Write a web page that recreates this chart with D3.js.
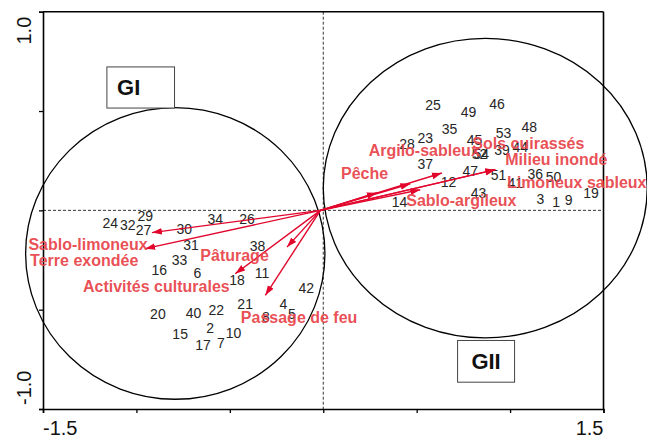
<!DOCTYPE html>
<html>
<head>
<meta charset="utf-8">
<script src="https://cdn.jsdelivr.net/npm/d3@7"></script>
<style>
  body { margin: 0; background: #fff; }
  svg { font-family: "Liberation Sans", Arial, sans-serif; }
</style>
</head>
<body>
<div id="chart"></div>
<script>
(function(){

// sites (relevés) : number, axis 1, axis 2
const siteIds = [24, 32, 29, 27, 34, 26, 30, 31, 33, 16, 6, 38, 18, 11, 42, 20, 40, 22, 21, 4, 5, 8, 2, 10, 15, 17, 7,
                 25, 49, 46, 35, 53, 48, 28, 23, 45, 52, 54, 39, 44, 37, 47, 12, 51, 41, 36, 50, 43, 14, 3, 1, 9, 19];
const siteX = [-1.140, -1.046, -0.953, -0.962, -0.578, -0.408, -0.744, -0.708, -0.769, -0.878, -0.673, -0.352, -0.462, -0.328, -0.091, -0.885, -0.694, -0.573, -0.418, -0.213, -0.168, -0.307, -0.605, -0.480, -0.766, -0.644, -0.548,
               0.587, 0.778, 0.930, 0.676, 0.965, 1.103, 0.448, 0.546, 0.810, 0.837, 0.846, 0.957, 1.055, 0.546, 0.787, 0.671, 0.938, 1.028, 1.135, 1.233, 0.831, 0.408, 1.162, 1.247, 1.313, 1.433];
const siteY = [-0.064, -0.072, -0.030, -0.097, -0.042, -0.042, -0.096, -0.176, -0.248, -0.302, -0.314, -0.180, -0.349, -0.316, -0.389, -0.520, -0.515, -0.504, -0.473, -0.470, -0.520, -0.537, -0.591, -0.616, -0.621, -0.680, -0.668,
               0.532, 0.495, 0.537, 0.408, 0.389, 0.419, 0.332, 0.366, 0.356, 0.282, 0.282, 0.302, 0.319, 0.235, 0.198, 0.142, 0.176, 0.137, 0.180, 0.168, 0.089, 0.042, 0.059, 0.042, 0.054, 0.087];

// environmental variables : arrow tip and label position
const varNames = ["Sablo-limoneux", "Terre exondée", "Pâturage", "Activités culturales", "Passage de feu",
                  "Pêche", "Argilo-sableux", "Sols cuirassés", "Milieu inondé", "Limoneux sableux", "Sablo-argileux"];
const varX = [-0.917, -0.953, -0.194, -0.471, -0.310, 0.287, 0.635, 0.921, 0.466, 0.921, 0.519];
const varY = [-0.112, -0.193, -0.185, -0.319, -0.428, 0.089, 0.188, 0.205, 0.134, 0.205, 0.104];
const varLabelX = [-1.578, -1.569, -0.658, -1.286, -0.441, 0.095, 0.243, 0.798, 0.974, 0.983, 0.444];
const varLabelY = [-0.171, -0.252, -0.227, -0.383, -0.540, 0.186, 0.302, 0.336, 0.255, 0.142, 0.050];
const arrowOrigin = [-0.015, 0];

// groups : ellipse centre / radii, box, label
const groupNames = ["GI", "GII"];
const groupCx = [-0.792, 0.867];
const groupCy = [-0.217, 0.112];
const groupRx = [0.801, 0.867];
const groupRy = [0.734, 0.754];
const boxX = [[-1.158, -0.796], [0.719, 1.024]];
const boxY = [[0.722, 0.515], [-0.655, -0.865]];

const xTicks = [-1.5, -1.0, -0.5, 0, 0.5, 1.0, 1.5];
const yTicks = [-1.0, -0.5, 0, 0.5, 1.0];
const xTickLabels = ["-1.5", "1.5"];
const yTickLabels = ["-1.0", "1.0"];

const width = 647, height = 438;
const margin = { top: 11.7, right: 43.5, bottom: 29, left: 43 };

const svg = d3.select("#chart").append("svg")
    .attr("width", width)
    .attr("height", height);

const x = d3.scaleLinear().domain([-1.5, 1.5]).range([margin.left, width - margin.right]);
const y = d3.scaleLinear().domain([-1, 1]).range([height - margin.bottom, margin.top]);

const red = "#e2062c";
const labelRed = "#e8464c";

// dashed zero lines
svg.append("line")
    .attr("x1", x(-1.5)).attr("x2", x(1.5))
    .attr("y1", y(0)).attr("y2", y(0))
    .attr("stroke", "#000").attr("stroke-width", 0.8).attr("stroke-dasharray", "3,2");
svg.append("line")
    .attr("x1", x(0)).attr("x2", x(0))
    .attr("y1", y(1)).attr("y2", y(-1))
    .attr("stroke", "#000").attr("stroke-width", 0.8).attr("stroke-dasharray", "3,2");

// frame top / right
svg.append("line")
    .attr("x1", x(-1.5)).attr("x2", x(1.5)).attr("y1", y(1)).attr("y2", y(1))
    .attr("stroke", "#000").attr("stroke-width", 1.6);
svg.append("line")
    .attr("x1", x(1.5)).attr("x2", x(1.5)).attr("y1", y(1)).attr("y2", y(-1))
    .attr("stroke", "#000").attr("stroke-width", 1.6);

// axes
const xAxis = svg.append("g")
    .attr("transform", `translate(0,${y(-1)})`)
    .call(d3.axisBottom(x).tickValues(xTicks).tickSize(4).tickFormat(""));
const yAxis = svg.append("g")
    .attr("transform", `translate(${x(-1.5)},0)`)
    .call(d3.axisLeft(y).tickValues(yTicks).tickSize(4).tickFormat(""));
[xAxis, yAxis].forEach(g => {
  g.select(".domain").attr("stroke", "#000").attr("stroke-width", 1.6);
  g.selectAll(".tick line").attr("stroke", "#000").attr("stroke-width", 1.3);
});

svg.append("text")
    .attr("x", x(-1.5)).attr("y", 434.5)
    .attr("text-anchor", "start").attr("font-size", 20).attr("fill", "#111")
    .text(xTickLabels[0]);
svg.append("text")
    .attr("x", x(1.5)).attr("y", 434.5)
    .attr("text-anchor", "end").attr("font-size", 20).attr("fill", "#111")
    .text(xTickLabels[1]);
svg.append("text")
    .attr("transform", `translate(31,${y(-1) - 4}) rotate(-90)`)
    .attr("text-anchor", "start").attr("font-size", 20).attr("fill", "#111")
    .text(yTickLabels[0]);
svg.append("text")
    .attr("transform", `translate(31,${y(1) + 5}) rotate(-90)`)
    .attr("text-anchor", "end").attr("font-size", 20).attr("fill", "#111")
    .text(yTickLabels[1]);

// group ellipses
svg.append("g").selectAll("ellipse")
    .data(groupNames)
    .enter().append("ellipse")
    .attr("cx", (d, i) => x(groupCx[i]))
    .attr("cy", (d, i) => y(groupCy[i]))
    .attr("rx", (d, i) => x(groupRx[i]) - x(0))
    .attr("ry", (d, i) => y(0) - y(groupRy[i]))
    .attr("fill", "none")
    .attr("stroke", "#000")
    .attr("stroke-width", 1.3);

// site numbers
svg.append("g").selectAll("text")
    .data(siteIds)
    .enter().append("text")
    .attr("x", (d, i) => x(siteX[i]))
    .attr("y", (d, i) => y(siteY[i]))
    .attr("dy", "0.35em")
    .attr("text-anchor", "middle")
    .attr("font-size", 14)
    .attr("fill", "#262626")
    .text(d => d);

// arrows
svg.append("defs").append("marker")
    .attr("id", "head")
    .attr("viewBox", "0 -4 10 8")
    .attr("refX", 10).attr("refY", 0)
    .attr("markerWidth", 10).attr("markerHeight", 8)
    .attr("markerUnits", "userSpaceOnUse")
    .attr("orient", "auto")
    .append("path")
    .attr("d", "M0,-3.4L10,0L0,3.4Z")
    .attr("fill", red);

svg.append("g").selectAll("line")
    .data(varNames)
    .enter().append("line")
    .attr("x1", x(arrowOrigin[0]))
    .attr("y1", y(arrowOrigin[1]))
    .attr("x2", (d, i) => x(varX[i]))
    .attr("y2", (d, i) => y(varY[i]))
    .attr("stroke", red)
    .attr("stroke-width", 1.4)
    .attr("marker-end", "url(#head)");

svg.append("g").selectAll("text")
    .data(varNames)
    .enter().append("text")
    .attr("x", (d, i) => x(varLabelX[i]))
    .attr("y", (d, i) => y(varLabelY[i]))
    .attr("dy", "0.35em")
    .attr("font-size", 16)
    .attr("font-weight", "bold")
    .attr("fill", labelRed)
    .attr("fill-opacity", 0.95)
    .text(d => d);

// group boxes
const boxes = svg.append("g").selectAll("g")
    .data(groupNames)
    .enter().append("g");
boxes.append("rect")
    .attr("x", (d, i) => x(boxX[i][0]))
    .attr("y", (d, i) => y(boxY[i][0]))
    .attr("width", (d, i) => x(boxX[i][1]) - x(boxX[i][0]))
    .attr("height", (d, i) => y(boxY[i][1]) - y(boxY[i][0]))
    .attr("fill", "#fff")
    .attr("stroke", "#444")
    .attr("stroke-width", 1);
boxes.append("text")
    .attr("x", (d, i) => (x(boxX[i][0]) + x(boxX[i][1])) / 2 - (i ? 0 : 12))
    .attr("y", (d, i) => (y(boxY[i][0]) + y(boxY[i][1])) / 2 + 8)
    .attr("text-anchor", "middle")
    .attr("font-size", 22)
    .attr("font-weight", "bold")
    .attr("fill", "#111")
    .text(d => d);

})();
</script>
</body>
</html>
